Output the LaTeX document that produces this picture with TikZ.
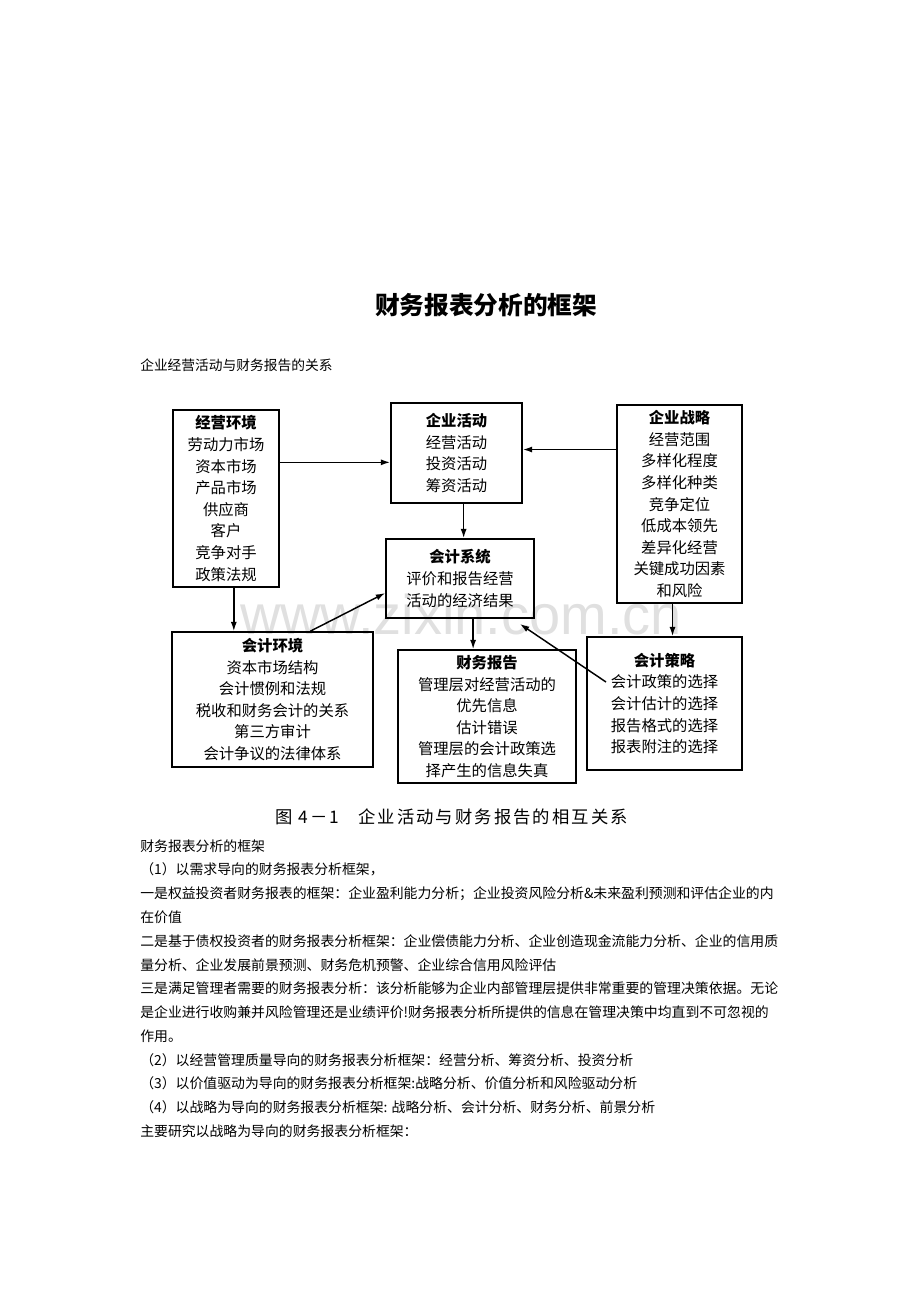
\documentclass[tikz,border=0pt]{standalone}
\usepackage{fontspec}
\usetikzlibrary{arrows.meta}
\newfontfamily\cjk{Noto Sans CJK SC}
\newfontfamily\wmfont{Liberation Sans}

\begin{document}
\begin{tikzpicture}[x=0.75pt, y=-0.75pt,
    box/.style={draw, line width=1.3pt, align=center, inner sep=0pt,
      font=\cjk\fontsize{11.5}{16.2}\selectfont},
    sized/.style 2 args={minimum width=#1*0.75pt, minimum height=#2*0.75pt},
    arr/.style={-{Latex[length=7pt,width=4.6pt]}, line width=1.1pt},
    bodyline/.style={anchor=west, inner sep=0pt, font=\cjk\fontsize{10.4}{12}\selectfont}]
  \useasboundingbox (0,0) rectangle (920,1302);
  \node[text=black!12, font=\wmfont\fontsize{42}{44}\selectfont] (mark) at (461,614) {www.zixin.com.cn};

  \node[font=\cjk\bfseries\fontsize{18.5}{20}\selectfont] (title) at (486,305) {财务报表分析的框架};
  \node[bodyline, font=\cjk\fontsize{10.3}{12}\selectfont] (sub) at (140,365) {企业经营活动与财务报告的关系};

  \node[box, sized={106}{177}] (env) at (226,498.5)
    {\textbf{经营环境}\\劳动力市场\\资本市场\\产品市场\\供应商\\客户\\竞争对手\\政策法规};
  \node[box, sized={131}{100}] (act) at (456.5,453)
    {\textbf{企业活动}\\经营活动\\投资活动\\筹资活动};
  \node[box, sized={125}{198}] (strat) at (679.5,504)
    {\textbf{企业战略}\\经营范围\\多样化程度\\多样化种类\\竞争定位\\低成本领先\\差异化经营\\关键成功因素\\和风险};
  \node[box, sized={148}{79}] (sys) at (460,578.5)
    {\textbf{会计系统}\\评价和报告经营\\活动的经济结果};
  \node[box, sized={201}{135}] (accenv) at (272.5,699.5)
    {\textbf{会计环境}\\资本市场结构\\会计惯例和法规\\税收和财务会计的关系\\第三方审计\\会计争议的法律体系};
  \node[box, sized={178}{133}] (report) at (487,716.5)
    {\textbf{财务报告}\\管理层对经营活动的\\优先信息\\估计错误\\管理层的会计政策选\\择产生的信息失真};
  \node[box, sized={155}{133}] (policy) at (664.5,703.5)
    {\textbf{会计策略}\\会计政策的选择\\会计估计的选择\\报告格式的选择\\报表附注的选择};

  \coordinate (polTail) at (606,682);
  \coordinate (sysTip) at (520,624);

  \draw[arr] (env.east |- act.188) -- (act.188);
  \draw[arr] (strat.west |- act.3) -- (act.3);
  \draw[arr] (act.-82) -- (act.-82 |- sys.north);
  \draw[arr] (sys.-72) -- (sys.-72 |- report.north);
  \draw[arr] (env.-85) -- (env.-85 |- accenv.north);
  \draw[arr] (strat.-94) -- (strat.-94 |- policy.north);
  \draw[arr] (accenv.61) -- (sys.191);
  \draw[arr] (polTail) -- (sysTip);

  \node[anchor=west, inner sep=0pt, font=\cjk\fontsize{13}{15}\selectfont\addfontfeature{LetterSpace=12}] (capnum) at (275,817) {图 4－1};
  \node[anchor=west, inner sep=0pt, font=\cjk\fontsize{13}{15}\selectfont\addfontfeature{LetterSpace=12}] (captext) at (358,817) {企业活动与财务报告的相互关系};

  \foreach \i/\t in {0/{财务报表分析的框架},
      1/{（1）以需求导向的财务报表分析框架，},
      2/{一是权益投资者财务报表的框架：企业盈利能力分析；企业投资风险分析\&未来盈利预测和评估企业的内},
      3/{在价值},
      4/{二是基于债权投资者的财务报表分析框架：企业偿债能力分析、企业创造现金流能力分析、企业的信用质},
      5/{量分析、企业发展前景预测、财务危机预警、企业综合信用风险评估},
      6/{三是满足管理者需要的财务报表分析：该分析能够为企业内部管理层提供非常重要的管理决策依据。无论},
      7/{是企业进行收购兼并风险管理还是业绩评价!财务报表分析所提供的信息在管理决策中均直到不可忽视的},
      8/{作用。},
      9/{（2）以经营管理质量导向的财务报表分析框架：经营分析、筹资分析、投资分析},
      10/{（3）以价值驱动为导向的财务报表分析框架:战略分析、价值分析和风险驱动分析},
      11/{（4）以战略为导向的财务报表分析框架: 战略分析、会计分析、财务分析、前景分析},
      12/{主要研究以战略为导向的财务报表分析框架：}}
    \node[bodyline] (line\i) at (140,846+23.75*\i) {\t};
\end{tikzpicture}
\end{document}
